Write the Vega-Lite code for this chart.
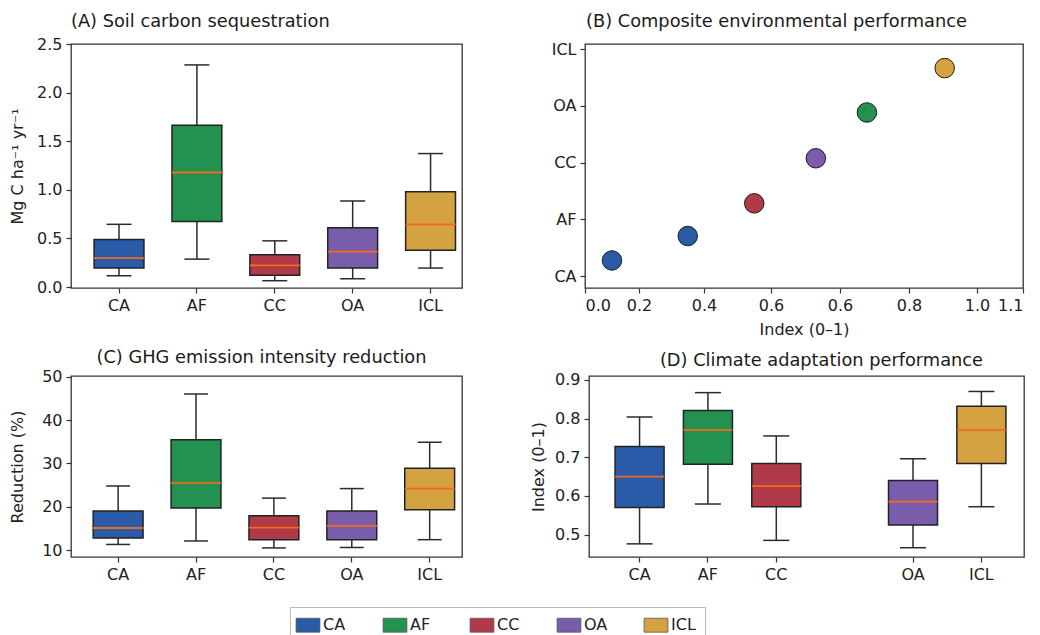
{
  "$schema": "https://vega.github.io/schema/vega-lite/v6.json",
  "background": "white",
  "padding": {"left": 8, "top": 12, "right": 5, "bottom": 0},
  "config": {
    "font": "DejaVu Sans",
    "view": {"stroke": "#333333", "strokeWidth": 1.3},
    "axis": {"grid": false, "domain": false, "tickColor": "#333333", "tickWidth": 1.2, "tickSize": 5, "labelPadding": 4, "labelFont": "DejaVu Sans", "titleFont": "DejaVu Sans", "labelFontSize": 16, "titleFontSize": 16, "titleFontWeight": "normal", "labelColor": "#222222", "titleColor": "#222222"},
    "title": {"font": "DejaVu Sans", "fontSize": 17.8, "fontWeight": "normal", "color": "#1a1a1a", "frame": "group"},
    "legend": {"orient": "none", "legendX": 219, "legendY": 563, "direction": "horizontal", "symbolType": "M-1.4,-0.82H1.4V0.82H-1.4Z", "symbolSize": 289, "symbolStrokeWidth": 0.8, "symbolStrokeColor": "#555555", "labelFont": "DejaVu Sans", "labelFontSize": 16, "labelColor": "#222222", "labelOffset": 6, "strokeColor": "#bbbbbb", "fillColor": "white", "padding": 9, "columnPadding": 33, "gridAlign": "all"}
  },
  "datasets": {
    "soil": [
      {"system": "CA", "lo": 0.116, "q1": 0.195, "median": 0.297, "q3": 0.49, "hi": 0.645},
      {"system": "AF", "lo": 0.287, "q1": 0.673, "median": 1.178, "q3": 1.663, "hi": 2.285},
      {"system": "CC", "lo": 0.065, "q1": 0.12, "median": 0.222, "q3": 0.331, "hi": 0.475},
      {"system": "OA", "lo": 0.085, "q1": 0.195, "median": 0.365, "q3": 0.611, "hi": 0.885},
      {"system": "ICL", "lo": 0.195, "q1": 0.379, "median": 0.645, "q3": 0.98, "hi": 1.373}
    ],
    "composite": [
      {"system": "CA", "index": 0.10, "position": 0.275},
      {"system": "CA", "index": 0.35, "position": 0.706},
      {"system": "CC", "index": 0.55, "position": 1.282},
      {"system": "OA", "index": 0.665, "position": 2.076},
      {"system": "AF", "index": 0.739, "position": 2.883},
      {"system": "ICL", "index": 0.905, "position": 3.665}
    ],
    "ghg": [
      {"system": "CA", "lo": 11.3, "q1": 12.8, "median": 15.1, "q3": 19.05, "hi": 24.8},
      {"system": "AF", "lo": 12.1, "q1": 19.7, "median": 25.5, "q3": 35.5, "hi": 46.05},
      {"system": "CC", "lo": 10.5, "q1": 12.4, "median": 15.2, "q3": 17.9, "hi": 22.0},
      {"system": "OA", "lo": 10.6, "q1": 12.4, "median": 15.6, "q3": 19.05, "hi": 24.2},
      {"system": "ICL", "lo": 12.4, "q1": 19.3, "median": 24.2, "q3": 28.9, "hi": 34.9}
    ],
    "adapt": [
      {"system": "CA", "lo": 0.476, "q1": 0.570, "median": 0.650, "q3": 0.728, "hi": 0.804},
      {"system": "AF", "lo": 0.579, "q1": 0.682, "median": 0.770, "q3": 0.821, "hi": 0.867},
      {"system": "CC", "lo": 0.485, "q1": 0.572, "median": 0.625, "q3": 0.684, "hi": 0.755},
      {"system": "OA", "lo": 0.466, "q1": 0.525, "median": 0.585, "q3": 0.640, "hi": 0.696},
      {"system": "ICL", "lo": 0.572, "q1": 0.684, "median": 0.770, "q3": 0.832, "hi": 0.870}
    ]
  },
  "resolve": {"scale": {"fill": "shared"}, "legend": {"fill": "shared"}},
  "spacing": 10,
  "vconcat": [
    {
      "spacing": 87,
      "resolve": {"scale": {"fill": "shared"}, "legend": {"fill": "shared"}},
      "hconcat": [
        {
          "width": 391, "height": 244,
          "title": {"text": "(A) Soil carbon sequestration", "anchor": "start", "dx": 0, "offset": 5},
          "data": {"name": "soil"},
          "encoding": {"x": {"field": "system", "type": "nominal", "sort": null, "scale": {"domain": ["CA", "AF", "CC", "OA", "ICL"], "paddingInner": 0.36, "paddingOuter": 0.19, "align": 0.78}, "axis": {"title": null, "labelAngle": 0}}},
          "layer": [
            {"mark": {"type": "rule", "color": "#2b2b2b", "strokeWidth": 1.5}, "encoding": {"y": {"field": "lo", "type": "quantitative", "title": "Mg C ha⁻¹ yr⁻¹", "scale": {"domain": [-0.01, 2.5], "nice": false, "zero": false}, "axis": {"values": [0, 0.5, 1, 1.5, 2, 2.5], "format": ".1f", "minExtent": 38, "titlePadding": 8}}, "y2": {"field": "hi"}}},
            {"mark": {"type": "tick", "color": "#2b2b2b", "size": 25, "thickness": 1.5, "opacity": 1}, "encoding": {"y": {"field": "lo", "type": "quantitative", "title": "Mg C ha⁻¹ yr⁻¹"}}},
            {"mark": {"type": "tick", "color": "#2b2b2b", "size": 25, "thickness": 1.5, "opacity": 1}, "encoding": {"y": {"field": "hi", "type": "quantitative", "title": "Mg C ha⁻¹ yr⁻¹"}}},
            {"mark": {"type": "bar", "stroke": "#222222", "strokeWidth": 1.5}, "encoding": {"y": {"field": "q1", "type": "quantitative", "title": "Mg C ha⁻¹ yr⁻¹"}, "y2": {"field": "q3"}, "fill": {"field": "system", "type": "nominal", "scale": {"domain": ["CA", "AF", "CC", "OA", "ICL"], "range": ["#2a5ba8", "#23914f", "#b03a48", "#7a5cad", "#d4a240"]}, "legend": {"title": null}}}},
            {"mark": {"type": "tick", "color": "#f26a1b", "size": 50, "thickness": 1.8, "opacity": 1}, "encoding": {"y": {"field": "median", "type": "quantitative", "title": "Mg C ha⁻¹ yr⁻¹"}}}
          ]
        },
        {
          "width": 438, "height": 244,
          "title": {"text": "(B) Composite environmental performance", "anchor": "start", "dx": 1, "offset": 10},
          "data": {"name": "composite"},
          "mark": {"type": "point", "filled": true, "size": 380, "stroke": "#1a1a1a", "strokeWidth": 1, "opacity": 1},
          "encoding": {
            "x": {"field": "index", "type": "quantitative", "title": "Index (0–1)", "scale": {"domain": [0, 0.2, 0.4, 0.6, 0.7, 0.8, 1.0, 1.1], "range": [0, 54, 119, 186, 255, 324, 392, 438], "nice": false, "zero": false}, "axis": {"values": [0, 0.2, 0.4, 0.6, 0.7, 0.8, 1.0, 1.1], "labelExpr": "datum.value == 0.7 ? '0.6' : format(datum.value, '.1f')", "titlePadding": 8}},
            "y": {"field": "position", "type": "quantitative", "title": null, "scale": {"domain": [-0.21, 4.09], "nice": false, "zero": false}, "axis": {"values": [0, 1, 2, 3, 4], "labelExpr": "['CA','AF','CC','OA','ICL'][datum.value]"}},
            "fill": {"field": "system", "type": "nominal", "scale": {"domain": ["CA", "AF", "CC", "OA", "ICL"], "range": ["#2a5ba8", "#23914f", "#b03a48", "#7a5cad", "#d4a240"]}, "legend": {"title": null}}
          }
        }
      ]
    },
    {
      "spacing": 66,
      "resolve": {"scale": {"fill": "shared"}, "legend": {"fill": "shared"}},
      "hconcat": [
        {
          "width": 391, "height": 181,
          "title": {"text": "(C) GHG emission intensity reduction", "anchor": "middle", "dx": -5, "offset": 2},
          "data": {"name": "ghg"},
          "encoding": {"x": {"field": "system", "type": "nominal", "sort": null, "scale": {"domain": ["CA", "AF", "CC", "OA", "ICL"], "paddingInner": 0.36, "paddingOuter": 0.19, "align": 0.75}, "axis": {"title": null, "labelAngle": 0}}},
          "layer": [
            {"mark": {"type": "rule", "color": "#2b2b2b", "strokeWidth": 1.5}, "encoding": {"y": {"field": "lo", "type": "quantitative", "title": "Reduction (%)", "scale": {"domain": [8.4, 50.2], "nice": false, "zero": false}, "axis": {"values": [10, 20, 30, 40, 50], "minExtent": 38, "titlePadding": 8}}, "y2": {"field": "hi"}}},
            {"mark": {"type": "tick", "color": "#2b2b2b", "size": 24, "thickness": 1.5, "opacity": 1}, "encoding": {"y": {"field": "lo", "type": "quantitative", "title": "Reduction (%)"}}},
            {"mark": {"type": "tick", "color": "#2b2b2b", "size": 24, "thickness": 1.5, "opacity": 1}, "encoding": {"y": {"field": "hi", "type": "quantitative", "title": "Reduction (%)"}}},
            {"mark": {"type": "bar", "stroke": "#222222", "strokeWidth": 1.5}, "encoding": {"y": {"field": "q1", "type": "quantitative", "title": "Reduction (%)"}, "y2": {"field": "q3"}, "fill": {"field": "system", "type": "nominal", "scale": {"domain": ["CA", "AF", "CC", "OA", "ICL"], "range": ["#2a5ba8", "#23914f", "#b03a48", "#7a5cad", "#d4a240"]}, "legend": {"title": null}}}},
            {"mark": {"type": "tick", "color": "#f26a1b", "size": 50, "thickness": 1.8, "opacity": 1}, "encoding": {"y": {"field": "median", "type": "quantitative", "title": "Reduction (%)"}}}
          ]
        },
        {
          "width": 435, "height": 181,
          "title": {"text": "(D) Climate adaptation performance", "anchor": "middle", "dx": 15, "offset": 2},
          "data": {"name": "adapt"},
          "encoding": {"x": {"field": "system", "type": "nominal", "sort": null, "scale": {"domain": ["CA", "AF", "CC", "gap", "OA", "ICL"], "paddingInner": 0.283, "paddingOuter": 0.323, "align": 0.59}, "axis": {"title": null, "labelAngle": 0, "values": ["CA", "AF", "CC", "OA", "ICL"]}}},
          "layer": [
            {"mark": {"type": "rule", "color": "#2b2b2b", "strokeWidth": 1.5}, "encoding": {"y": {"field": "lo", "type": "quantitative", "title": "Index (0–1)", "scale": {"domain": [0.442, 0.91], "nice": false, "zero": false}, "axis": {"values": [0.5, 0.6, 0.7, 0.8, 0.9], "format": ".1f", "titlePadding": 8}}, "y2": {"field": "hi"}}},
            {"mark": {"type": "tick", "color": "#2b2b2b", "size": 26, "thickness": 1.5, "opacity": 1}, "encoding": {"y": {"field": "lo", "type": "quantitative", "title": "Index (0–1)"}}},
            {"mark": {"type": "tick", "color": "#2b2b2b", "size": 26, "thickness": 1.5, "opacity": 1}, "encoding": {"y": {"field": "hi", "type": "quantitative", "title": "Index (0–1)"}}},
            {"mark": {"type": "bar", "stroke": "#222222", "strokeWidth": 1.5}, "encoding": {"y": {"field": "q1", "type": "quantitative", "title": "Index (0–1)"}, "y2": {"field": "q3"}, "fill": {"field": "system", "type": "nominal", "scale": {"domain": ["CA", "AF", "CC", "OA", "ICL"], "range": ["#2a5ba8", "#23914f", "#b03a48", "#7a5cad", "#d4a240"]}, "legend": {"title": null}}}},
            {"mark": {"type": "tick", "color": "#f26a1b", "size": 49, "thickness": 1.8, "opacity": 1}, "encoding": {"y": {"field": "median", "type": "quantitative", "title": "Index (0–1)"}}}
          ]
        }
      ]
    }
  ]
}
